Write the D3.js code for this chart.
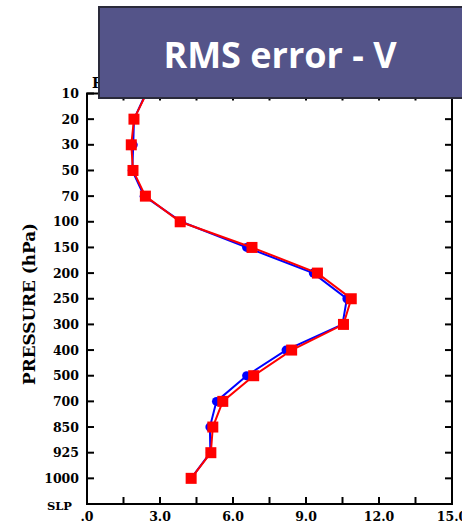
<!DOCTYPE html>
<html>
<head>
<meta charset="utf-8">
<script src="https://cdn.jsdelivr.net/npm/d3@7"></script>
<style>
  html, body { margin: 0; padding: 0; background: #fff; }
  svg { display: block; }
</style>
</head>
<body>
<svg id="chart" width="462" height="529"></svg>
<script>
// Pressure levels (hPa), top of the profile first, SLP at the bottom
const levels = ["10", "20", "30", "50", "70", "100", "150", "200", "250", "300",
                "400", "500", "700", "850", "925", "1000", "SLP"];

// RMS error of meridional wind (m/s) per level; null = no value
const rmsBlue = [2.42, 1.93, 1.90, 1.86, 2.35, 3.88, 6.56, 9.30, 10.68, 10.50,
                 8.18, 6.56, 5.32, 5.05, 5.07, 4.28, null];
const rmsRed  = [2.44, 1.93, 1.82, 1.89, 2.40, 3.83, 6.78, 9.47, 10.86, 10.54,
                 8.41, 6.85, 5.58, 5.17, 5.09, 4.28, null];

// x axis: ticks every 1.5, labelled every 3.0
const xTicks = d3.range(0, 15.01, 1.5);
const xLabels = { 0: ".0", 3: "3.0", 6: "6.0", 9: "9.0", 12: "12.0", 15: "15.0" };

const svg = d3.select("#chart");

const x = d3.scaleLinear().domain([0, 15]).range([87, 452]);
const y = d3.scalePoint().domain(levels).range([93.5, 504]);

const serif = "'DejaVu Serif', 'Liberation Serif', serif";

// frame
const g = svg.append("g");
g.append("rect")
  .attr("x", x(0)).attr("y", y("10"))
  .attr("width", x(15) - x(0)).attr("height", y("SLP") - y("10"))
  .attr("fill", "none").attr("stroke", "#000").attr("stroke-width", 2);

// inward ticks on all four sides
const tickLen = 7;
levels.forEach(l => {
  g.append("line").attr("x1", x(0)).attr("x2", x(0) + tickLen)
    .attr("y1", y(l)).attr("y2", y(l)).attr("stroke", "#000").attr("stroke-width", 2);
  g.append("line").attr("x1", x(15)).attr("x2", x(15) - tickLen)
    .attr("y1", y(l)).attr("y2", y(l)).attr("stroke", "#000").attr("stroke-width", 2);
});
xTicks.forEach(t => {
  g.append("line").attr("x1", x(t)).attr("x2", x(t))
    .attr("y1", y("SLP")).attr("y2", y("SLP") - tickLen).attr("stroke", "#000").attr("stroke-width", 2);
  g.append("line").attr("x1", x(t)).attr("x2", x(t))
    .attr("y1", y("10")).attr("y2", y("10") + tickLen).attr("stroke", "#000").attr("stroke-width", 2);
});

// level labels
g.selectAll("text.ylab").data(levels).join("text")
  .attr("class", "ylab")
  .attr("x", d => d === "SLP" ? 72 : 79)
  .attr("y", d => y(d) + (d === "SLP" ? 2 : 0))
  .attr("text-anchor", "end")
  .attr("dominant-baseline", "central")
  .attr("font-family", serif)
  .attr("font-weight", "bold")
  .attr("font-size", d => d === "SLP" ? 11.5 : 12.5)
  .text(d => d);

// x labels
g.selectAll("text.xlab").data(xTicks.filter(t => xLabels[t] !== undefined)).join("text")
  .attr("class", "xlab")
  .attr("x", d => x(d))
  .attr("y", 521)
  .attr("text-anchor", "middle")
  .attr("font-family", serif)
  .attr("font-weight", "bold")
  .attr("font-size", 12.5)
  .text(d => xLabels[d]);

// axis title
g.append("text")
  .attr("transform", "translate(35, 304) rotate(-90)")
  .attr("text-anchor", "middle")
  .attr("font-family", serif)
  .attr("font-weight", "bold")
  .attr("font-size", 16)
  .attr("textLength", 162)
  .attr("lengthAdjust", "spacingAndGlyphs")
  .text("PRESSURE (hPa)");

// header of the plot (lies under the title banner)
g.append("text")
  .attr("x", 92).attr("y", 88)
  .attr("font-family", serif)
  .attr("font-weight", "bold")
  .attr("font-size", 14)
  .text("RMSE  V");

// profiles
const line = d3.line()
  .defined(d => d.v !== null)
  .x(d => x(d.v))
  .y(d => y(d.lev));

const blue = levels.map((l, i) => ({ lev: l, v: rmsBlue[i] }));
const red  = levels.map((l, i) => ({ lev: l, v: rmsRed[i] }));

g.append("path").datum(blue).attr("d", line)
  .attr("fill", "none").attr("stroke", "#0000ff").attr("stroke-width", 2);
g.selectAll("circle.b").data(blue.filter(d => d.v !== null)).join("circle")
  .attr("class", "b")
  .attr("cx", d => x(d.v)).attr("cy", d => y(d.lev)).attr("r", 4.5)
  .attr("fill", "#0000ff");

g.append("path").datum(red).attr("d", line)
  .attr("fill", "none").attr("stroke", "#ff0000").attr("stroke-width", 2);
const sq = 11;
g.selectAll("rect.r").data(red.filter(d => d.v !== null)).join("rect")
  .attr("class", "r")
  .attr("x", d => x(d.v) - sq / 2).attr("y", d => y(d.lev) - sq / 2)
  .attr("width", sq).attr("height", sq)
  .attr("fill", "#ff0000");

// title banner
const banner = svg.append("g");
banner.append("rect")
  .attr("x", 99).attr("y", 7).attr("width", 370).attr("height", 91)
  .attr("fill", "#545489").attr("stroke", "#2a2a3a").attr("stroke-width", 2);
banner.append("text")
  .attr("x", 280).attr("y", 68)
  .attr("text-anchor", "middle")
  .attr("font-family", "'Open Sans', 'Noto Sans', sans-serif")
  .attr("font-weight", 700)
  .attr("font-size", 36)
  .attr("fill", "#ffffff")
  .text("RMS error - V");
</script>
</body>
</html>
